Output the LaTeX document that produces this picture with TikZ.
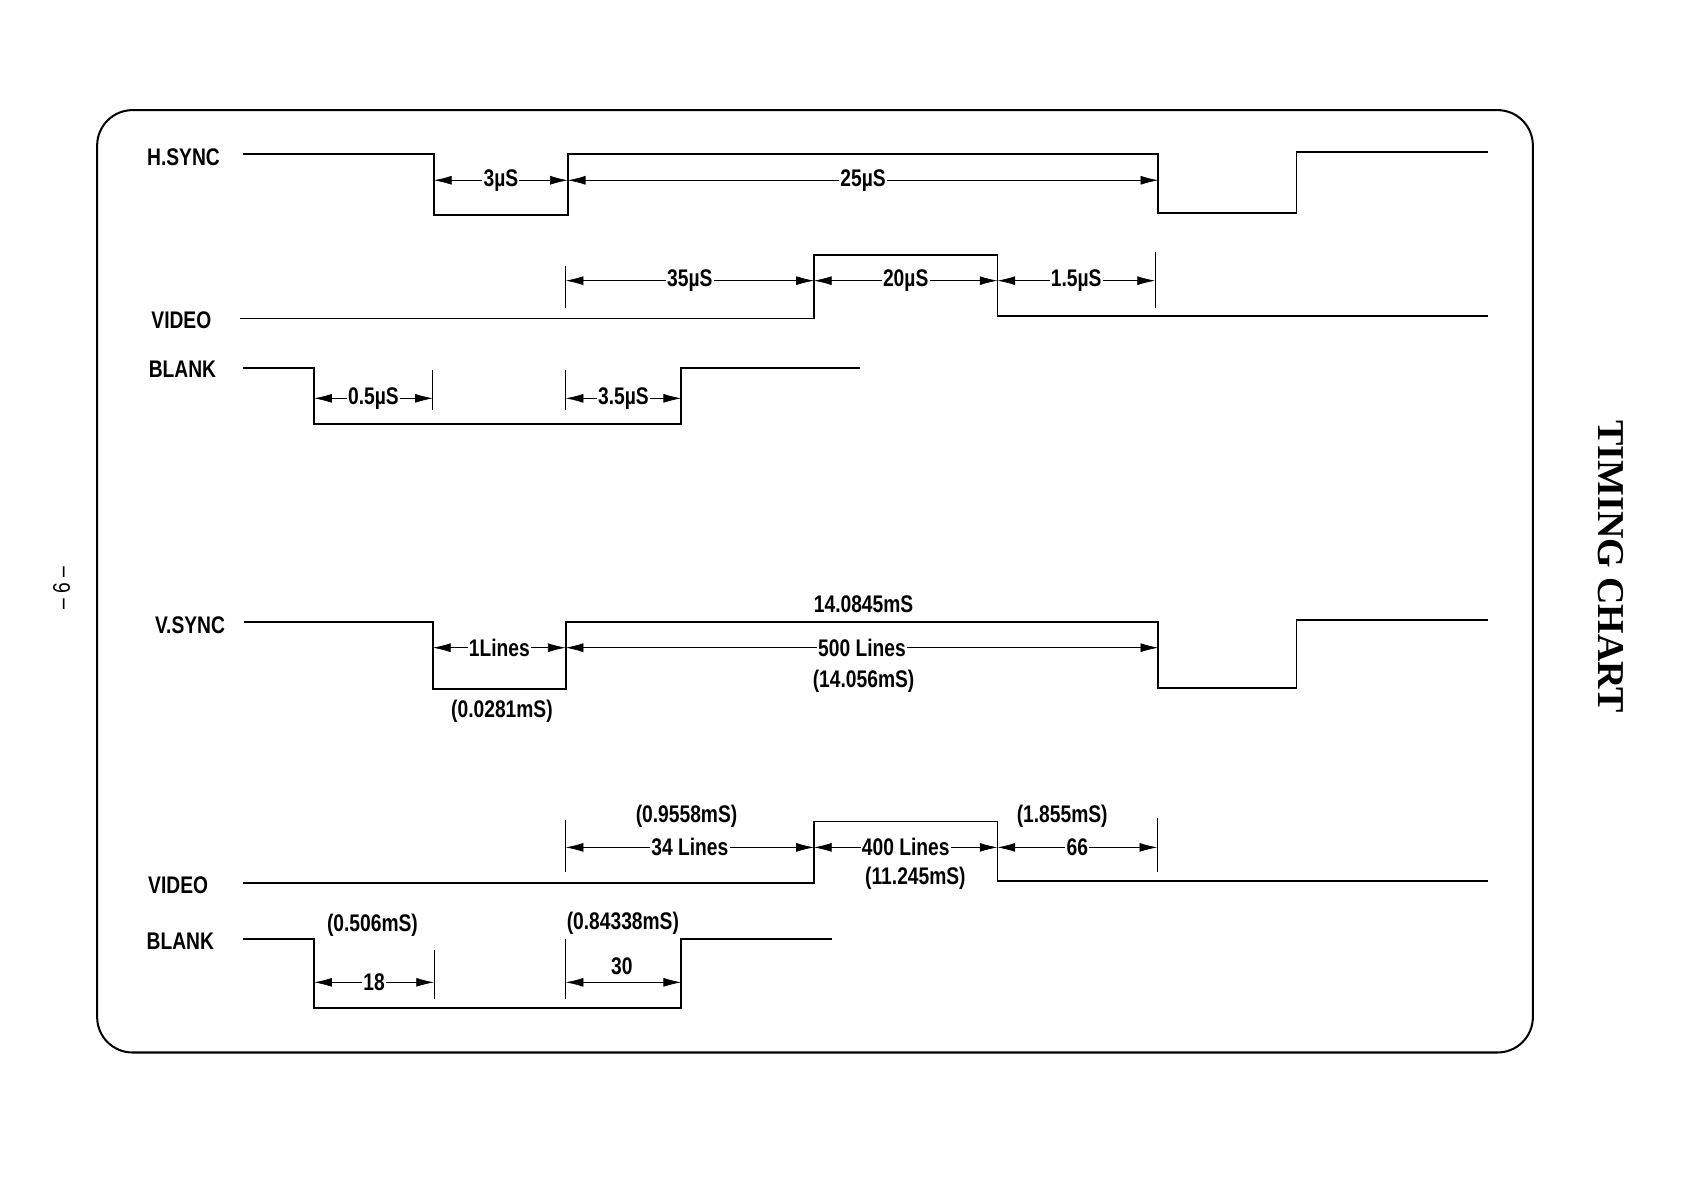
\documentclass[tikz,border=0pt]{standalone}
\usepackage{fontspec}
\setmainfont[FakeStretch=0.8]{Liberation Sans}
\newfontfamily\titlefont{Liberation Serif}
\usetikzlibrary{arrows.meta}
\begin{document}
\begin{tikzpicture}[x=0.03cm,y=-0.03cm]
        \tikzstyle{sig} = [line width=1.4pt, line join=miter]
        \tikzstyle{lbl} = [font=\bfseries\fontsize{19}{22}\selectfont, inner sep=1pt]
        \tikzstyle{dim} = [{Latex[length=14pt,width=7pt]}-{Latex[length=14pt,width=7pt]}, line width=.5pt]
        \tikzstyle{tick} = [line width=.7pt]
        \useasboundingbox (0,0) rectangle (1560,1102);
        \draw[line width=1.6pt, rounded corners=28] (90,102) rectangle (1420,975);
        \node[lbl, font=\titlefont\bfseries\fontsize{30}{32}\selectfont, rotate=-90] (title) at (1492,525) {TIMING CHART};
        \node[lbl, font=\fontsize{19}{22}\selectfont, rotate=90] (page) at (57,545) {-- 6 --};
        % horizontal timing
        \node[lbl] (hsync) at (170,146) {H.SYNC};
        \draw[sig] (225,143) -- (402,143) -- (402,199) -- (526,199) -- (526,143) -- (1073,143) -- (1073,197) -- (1201,197) -- (1201,141) -- (1378,141);
        \node[lbl] (video) at (168,297) {VIDEO};
        \draw[sig] (222,295) -- (754,295) -- (754,236) -- (924,236) -- (924,293) -- (1378,293);
        \node[lbl] (blank) at (169,342) {BLANK};
        \draw[sig] (225,341) -- (291,341) -- (291,393) -- (631,393) -- (631,341) -- (797,341);
        \draw[tick] (524,246) -- (524,285) (1070,233) -- (1070,285) (401,343) -- (401,380) (524,343) -- (524,380);
        \foreach \xa/\xb/\yy/\txt in {402/526/167/3µS, 526/1073/167/25µS, 524/754/260/35µS, 754/924/260/20µS, 924/1070/260/1.5µS, 291/401/369/0.5µS, 524/631/369/3.5µS} {
            \coordinate (da) at (\xa,\yy);
            \coordinate (db) at (\xb,\yy);
            \draw[dim] (da) -- (db) node[lbl, midway, fill=white] {\txt};
        }
        % vertical timing
        \node[lbl] (vsync) at (176,579) {V.SYNC};
        \draw[sig] (226,576) -- (401,576) -- (401,638) -- (524,638) -- (524,576) -- (1073,576) -- (1073,637) -- (1201,637) -- (1201,574) -- (1378,574);
        \node[lbl] (vtot) at (800,560) {14.0845mS};
        \node[lbl] (vdisp) at (800,631) {(14.056mS)};
        \node[lbl] (vpulse) at (465,659) {(0.0281mS)};
        \node[lbl] (video2) at (165,820) {VIDEO};
        \draw[sig] (225,818) -- (754,818) -- (754,761) -- (924,761) -- (924,816) -- (1378,816);
        \node[lbl] (bp) at (636,756) {(0.9558mS)};
        \node[lbl] (act) at (848,814) {(11.245mS)};
        \node[lbl] (fp) at (984,756) {(1.855mS)};
        \node[lbl] (blank2) at (167,872) {BLANK};
        \draw[sig] (225,870) -- (291,870) -- (291,934) -- (631,934) -- (631,870) -- (771,870);
        \node[lbl] (bl1) at (345,857) {(0.506mS)};
        \node[lbl] (bl2) at (577,855) {(0.84338mS)};
        \node[lbl] (bl3) at (576,895) {30};
        \draw[tick] (524,760) -- (524,808) (1072,758) -- (1072,808) (291,875) -- (291,925) (402,880) -- (402,925) (524,870) -- (524,925);
        \foreach \xa/\xb/\yy/\txt in {401/524/600/1Lines, 524/1073/600/500 Lines, 524/754/785/34 Lines, 754/924/785/400 Lines, 924/1072/785/66, 291/402/910/18} {
            \coordinate (da) at (\xa,\yy);
            \coordinate (db) at (\xb,\yy);
            \draw[dim] (da) -- (db) node[lbl, midway, fill=white] {\txt};
        }
        \coordinate (da) at (524,910);
        \coordinate (db) at (631,910);
        \draw[dim] (da) -- (db);
    \end{tikzpicture}
\end{document}
